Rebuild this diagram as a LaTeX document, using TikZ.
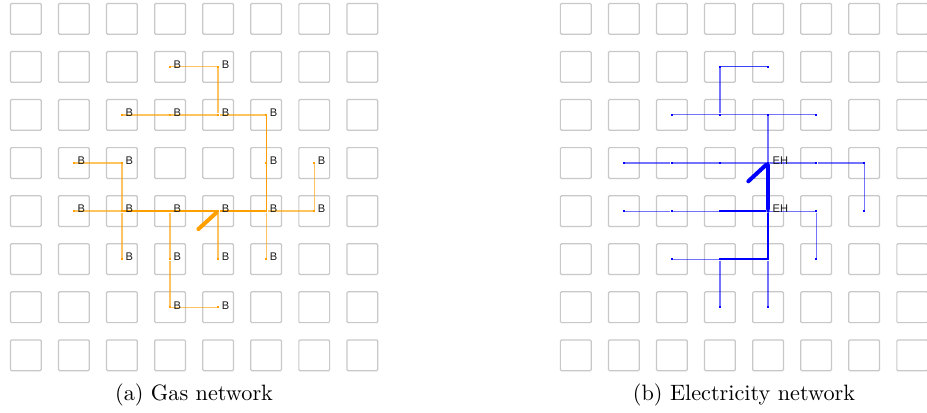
\documentclass[tikz,border=0pt]{standalone}
\usepackage{fontspec}
\newfontfamily\busfont{Liberation Sans}
\usetikzlibrary{backgrounds}
\definecolor{cellgray}{HTML}{C8C8C8}
\definecolor{gasorange}{HTML}{FFA000}
\definecolor{elecblue}{HTML}{0000FF}
\definecolor{labeltext}{HTML}{1A1A1A}
\tikzset{
  cell/.style={draw=cellgray, line width=0.55pt, rounded corners=0.5pt},
  buslabel/.style={
    font=\busfont\fontsize{5}{6}\selectfont,
    text=labeltext,
    inner sep=0pt,
    xshift=0.8pt,
    yshift=0.9pt
  },
  gasbus/.style={rectangle, fill=gasorange, inner sep=0pt, minimum size=0.9pt,
    label={[buslabel]0:B}},
  elecbus/.style={rectangle, fill=elecblue, inner sep=0pt, minimum size=0.9pt},
  hub/.style={circle, fill=elecblue, inner sep=0pt, minimum size=1.7pt,
    label={[buslabel]0:EH}},
  pipe/.style={draw=gasorange, line width=0.55pt, draw opacity=0.62},
  pipemid/.style={draw=gasorange, line width=0.6pt},
  pipethick/.style={draw=gasorange, line width=1.1pt},
  line/.style={draw=elecblue, line width=0.5pt, draw opacity=0.55},
  linemid/.style={draw=elecblue, line width=0.7pt},
  linethick/.style={draw=elecblue, line width=0.95pt},
  feed/.style={line width=1.8pt, line cap=round},
  caption/.style={font=\normalsize, inner sep=0pt}
}
\begin{document}
\begin{tikzpicture}[x=21.63pt,y=21.63pt]
\useasboundingbox (-0.537,0.391) rectangle (18.747,-8.2);

% gas buses
\node[gasbus] (g31) at (3,-1) {};
\node[gasbus] (g41) at (4,-1) {};
\node[gasbus] (g22) at (2,-2) {};
\node[gasbus] (g32) at (3,-2) {};
\node[gasbus] (g42) at (4,-2) {};
\node[gasbus] (g52) at (5,-2) {};
\node[gasbus] (g13) at (1,-3) {};
\node[gasbus] (g23) at (2,-3) {};
\node[gasbus] (g53) at (5,-3) {};
\node[gasbus] (g63) at (6,-3) {};
\node[gasbus] (g14) at (1,-4) {};
\node[gasbus] (g24) at (2,-4) {};
\node[gasbus] (g34) at (3,-4) {};
\node[gasbus] (g44) at (4,-4) {};
\node[gasbus] (g54) at (5,-4) {};
\node[gasbus] (g64) at (6,-4) {};
\node[gasbus] (g25) at (2,-5) {};
\node[gasbus] (g35) at (3,-5) {};
\node[gasbus] (g45) at (4,-5) {};
\node[gasbus] (g55) at (5,-5) {};
\node[gasbus] (g36) at (3,-6) {};
\node[gasbus] (g46) at (4,-6) {};
\coordinate (gasin) at (3.59,-4.375);

% electricity buses
\node[elecbus] (e31) at (14.44,-1) {};
\node[elecbus] (e41) at (15.44,-1) {};
\node[elecbus] (e22) at (13.44,-2) {};
\node[elecbus] (e32) at (14.44,-2) {};
\node[elecbus] (e42) at (15.44,-2) {};
\node[elecbus] (e52) at (16.44,-2) {};
\node[elecbus] (e13) at (12.44,-3) {};
\node[elecbus] (e23) at (13.44,-3) {};
\node[elecbus] (e33) at (14.44,-3) {};
\node[hub]     (e43) at (15.44,-3) {};
\node[elecbus] (e53) at (16.44,-3) {};
\node[elecbus] (e63) at (17.44,-3) {};
\node[elecbus] (e14) at (12.44,-4) {};
\node[elecbus] (e24) at (13.44,-4) {};
\node[elecbus] (e34) at (14.44,-4) {};
\node[hub]     (e44) at (15.44,-4) {};
\node[elecbus] (e54) at (16.44,-4) {};
\node[elecbus] (e64) at (17.44,-4) {};
\node[elecbus] (e25) at (13.44,-5) {};
\node[elecbus] (e35) at (14.44,-5) {};
\node[elecbus] (e45) at (15.44,-5) {};
\node[elecbus] (e55) at (16.44,-5) {};
\node[elecbus] (e36) at (14.44,-6) {};
\node[elecbus] (e46) at (15.44,-6) {};
\coordinate (elecin) at (15.03,-3.38);

\node[caption] (capgas) at (3.5,-7.83) {(a) Gas network};
\node[caption] (capelec) at (14.94,-7.83) {(b) Electricity network};

\begin{pgfonlayer}{background}
  \foreach \i in {0,...,7} {
    \foreach \j in {0,...,7} {
      \draw[cell] (\i-0.32,-\j-0.32) rectangle ++(0.64,0.64);
      \draw[cell] (\i+11.12,-\j-0.32) rectangle ++(0.64,0.64);
    }
  }

  \draw[pipe] (g31) -- (g41) -- (g42);
  \draw[pipe] (g22) -- (g32) -- (g42) -- (g52);
  \draw[pipemid] (g52) -- (g53) -- (g54);
  \draw[pipe] (g13) -- (g23) -- (g24) -- (g25);
  \draw[pipe] (g63) -- (g64) -- (g54);
  \draw[pipe] (g14) -- (g24);
  \draw[pipemid] (g24) -- (g34);
  \draw[pipethick] (g34) -- (g44);
  \draw[pipemid, line width=0.75pt] (g44) -- (g54);
  \draw[pipe] (g34) -- (g35) -- (g36) -- (g46);
  \draw[pipe] (g44) -- (g45);
  \draw[pipe] (g54) -- (g55);
  \draw[pipethick, feed] (g44) -- (gasin);

  \draw[line, draw opacity=0.75] (e31) -- (e41);
  \draw[line] (e31) -- (e32);
  \draw[line] (e22) -- (e32) -- (e42) -- (e52);
  \draw[line] (e42) -- (e43);
  \draw[line] (e13) -- (e23) -- (e33) -- (e43) -- (e53) -- (e63) -- (e64);
  \draw[line] (e14) -- (e24) -- (e34);
  \draw[linethick] (e34) -- (e44);
  \draw[line] (e44) -- (e54) -- (e55);
  \draw[linemid] (e44) -- (e45);
  \draw[line] (e25) -- (e35);
  \draw[linemid] (e35) -- (e45);
  \draw[line] (e35) -- (e36);
  \draw[line] (e45) -- (e46);
  \draw[linethick, feed] (e43) -- (e44);
  \draw[linethick, feed] (e43) -- (elecin);
\end{pgfonlayer}
\end{tikzpicture}
\end{document}
